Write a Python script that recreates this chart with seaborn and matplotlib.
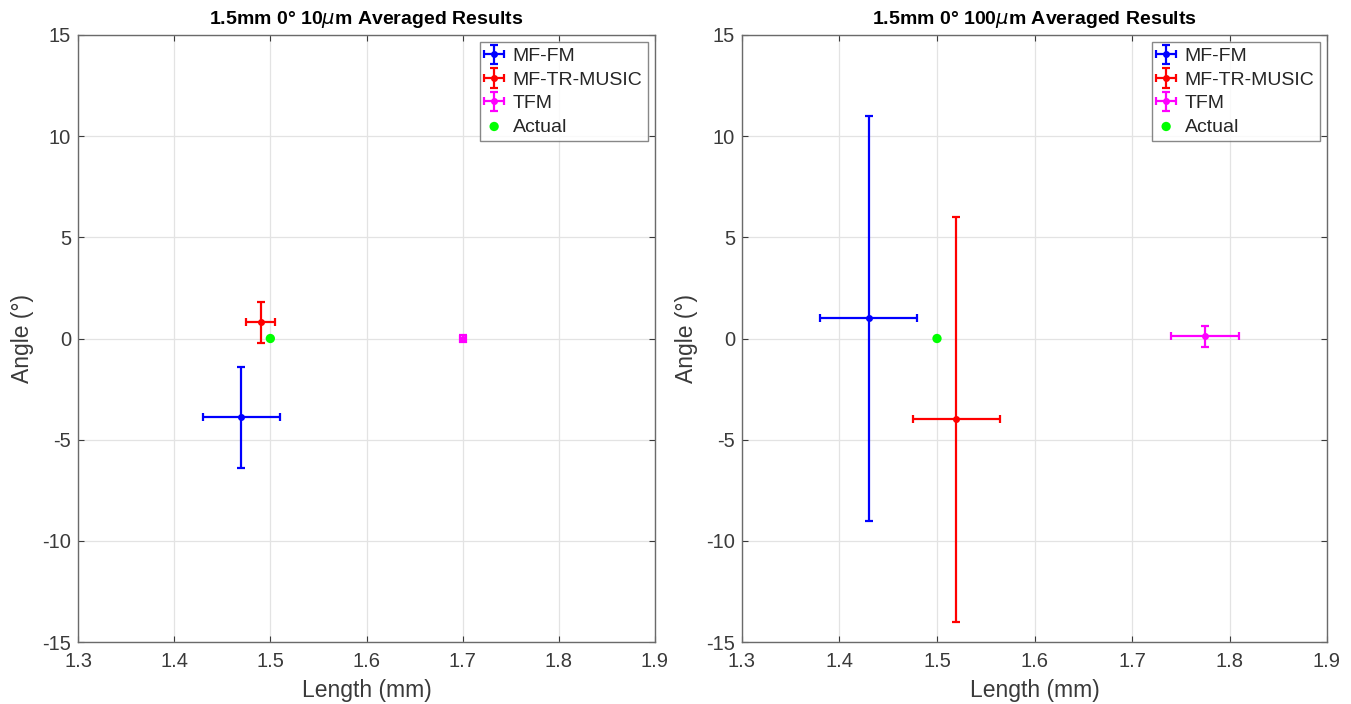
import numpy as np
import pandas as pd
import matplotlib
matplotlib.use("Agg")
import matplotlib.pyplot as plt
import seaborn as sns

# data
methods = ["MF-FM", "MF-TR-MUSIC", "TFM"]
colors = ["#0000ff", "#ff0000", "#ff00ff"]

titles = [r"1.5mm 0° 10$\mu$m Averaged Results", r"1.5mm 0° 100$\mu$m Averaged Results"]

len_10 = [1.47, 1.49, 1.70]
ang_10 = [-3.9, 0.8, 0.0]
len_err_10 = [0.04, 0.015, 0.003]
ang_err_10 = [2.5, 1.0, 0.15]

len_100 = [1.43, 1.52, 1.775]
ang_100 = [1.0, -4.0, 0.1]
len_err_100 = [0.05, 0.045, 0.035]
ang_err_100 = [10.0, 10.0, 0.5]

actual_len = [1.5]
actual_ang = [0.0]

sns.set_style("white")
plt.rcParams["font.family"] = ["Liberation Sans", "DejaVu Sans"]
plt.rcParams["axes.unicode_minus"] = False

W, H = 1351, 704
fig = plt.figure(figsize=(W / 100, H / 100), dpi=100)
# axes boxes in pixels (left, right), shared top/bottom
boxes = [(78, 655), (742, 1327)]
top_px, bot_px = 35, 642
axes = [fig.add_axes([l / W, 1 - bot_px / H, (r - l) / W, (bot_px - top_px) / H])
        for l, r in boxes]

panels = [(len_10, ang_10, len_err_10, ang_err_10),
          (len_100, ang_100, len_err_100, ang_err_100)]

for ax, title, (L, A, Le, Ae) in zip(axes, titles, panels):
    for i, m in enumerate(methods):
        ax.errorbar(L[i], A[i], xerr=Le[i], yerr=Ae[i], fmt="o", color=colors[i],
                    ms=4, lw=1.6, capsize=3, capthick=1.6, label=m)
    df = pd.DataFrame({"Length": actual_len, "Angle": actual_ang})
    sns.scatterplot(data=df, x="Length", y="Angle", ax=ax, color="#00ff00",
                    s=45, edgecolor="none", label="Actual", zorder=5)
    ax.set_xlim(1.3, 1.9)
    ax.set_ylim(-15, 15)
    ax.set_xticks(np.arange(1.3, 1.91, 0.1))
    ax.set_yticks(np.arange(-15, 16, 5))
    ax.set_xticklabels([f"{v:.1f}" for v in np.arange(1.3, 1.91, 0.1)])
    ax.grid(True, color="#e3e3e3", lw=0.9)
    ax.tick_params(direction="in", length=4, labelsize=14.5, colors="#3a3a3a",
                   top=True, right=True, bottom=True, left=True)
    ax.tick_params(axis="x", pad=7)
    ax.tick_params(axis="y", pad=5)
    for s in ax.spines.values():
        s.set_color("#6a6a6a")
        s.set_linewidth(1.0)
    ax.set_xlabel("Length (mm)", fontsize=16.5, color="#3a3a3a", labelpad=6)
    ax.set_ylabel("Angle (°)", fontsize=16.5, color="#3a3a3a", labelpad=6)
    ax.set_title(title, fontsize=14, fontweight="bold", color="#000000", pad=8)
    handles, labels = ax.get_legend_handles_labels()
    order = [labels.index(n) for n in methods + ["Actual"]]
    leg = ax.legend([handles[k] for k in order], [labels[k] for k in order],
                    loc="upper right", fontsize=14, frameon=True, fancybox=False,
                    borderaxespad=0.35, handletextpad=0.5, labelspacing=0.3,
                    handlelength=0.9, borderpad=0.3, labelcolor="#262626")
    leg.get_frame().set_edgecolor("#6a6a6a")
    leg.get_frame().set_linewidth(1.0)

fig.savefig("out.png", dpi=100)
